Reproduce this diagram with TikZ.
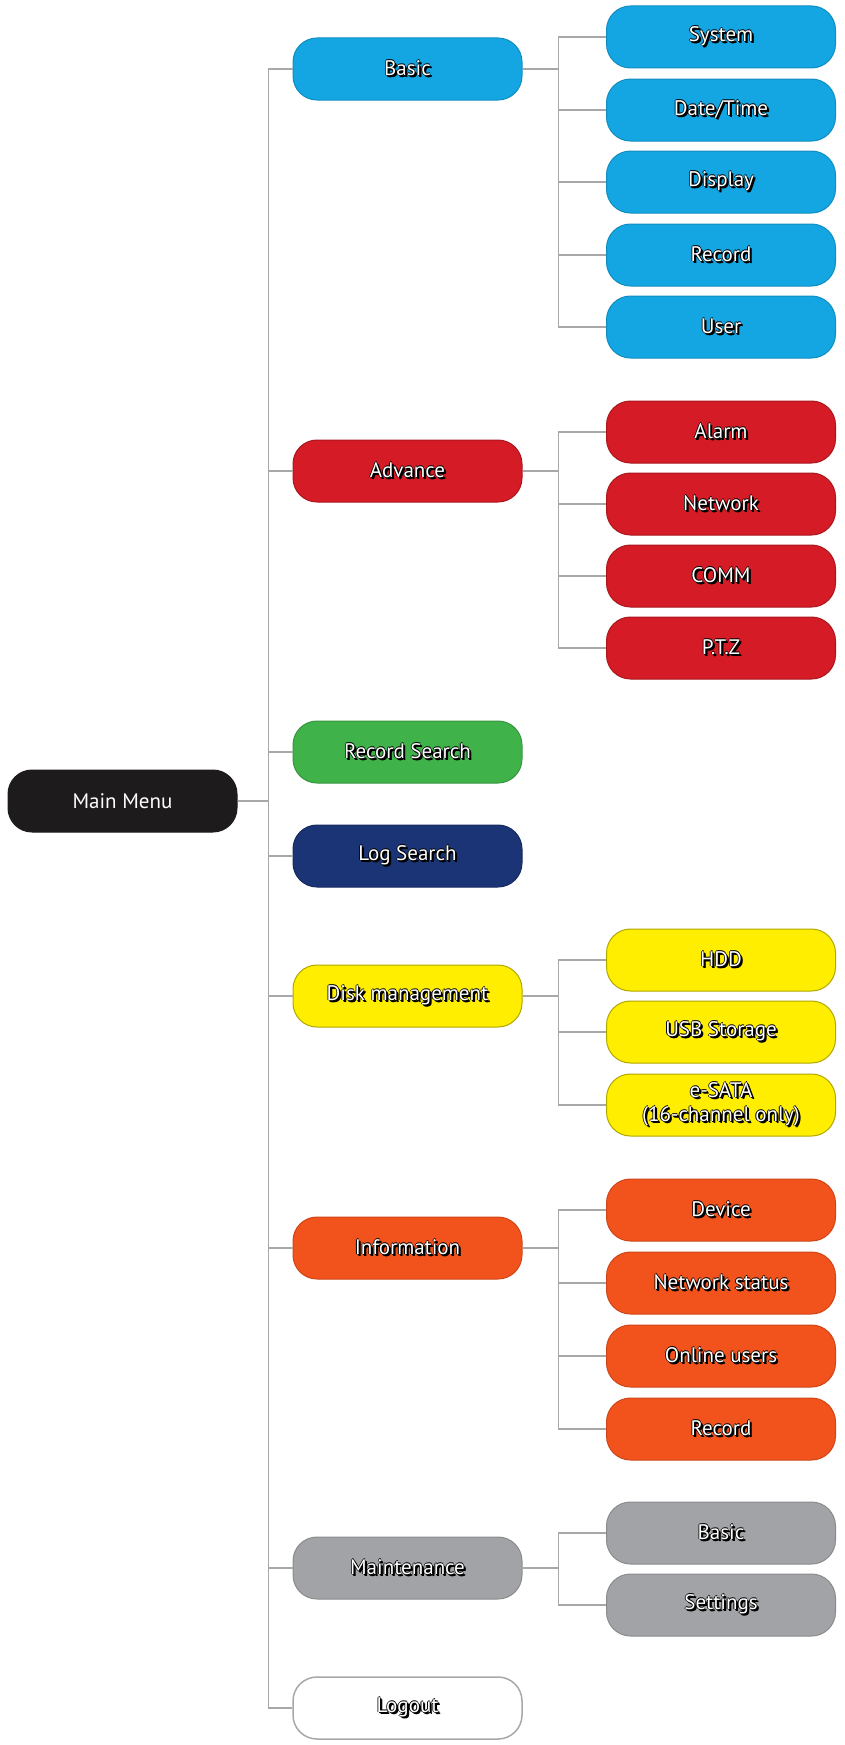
\documentclass[tikz,border=0pt]{standalone}
\usepackage{fontspec}
\setmainfont{PT Sans}
\usepackage{tikz}

\definecolor{menublue}{RGB}{20,166,226}
\definecolor{menured}{RGB}{213,28,38}
\definecolor{menugreen}{RGB}{64,178,74}
\definecolor{menunavy}{RGB}{27,52,118}
\definecolor{menuyellow}{RGB}{255,238,0}
\definecolor{menuorange}{RGB}{242,82,28}
\definecolor{menugray}{RGB}{161,163,166}
\definecolor{menublack}{RGB}{30,27,28}
\definecolor{linkgray}{RGB}{168,168,170}

% white label with a dark drop shadow
\newcommand{\shtxt}[1]{\leavevmode
  \rlap{\hspace{2.2pt}\raisebox{-2.2pt}{\color{black}#1}}%
  \rlap{\hspace{1.5pt}\raisebox{-1.5pt}{\color{black}#1}}%
  \rlap{\hspace{0.8pt}\raisebox{-0.8pt}{\color{black}#1}}%
  \rlap{\hspace{-0.8pt}\raisebox{0.2pt}{\color{black}#1}}%
  \rlap{\hspace{0.2pt}\raisebox{0.8pt}{\color{black}#1}}%
  {\color{white}#1}}

\tikzset{
  box/.style={rounded corners=24pt, minimum width=229pt, minimum height=62pt,
    inner sep=0pt, line width=1pt, align=center,
    font=\fontsize{21}{24}\selectfont},
  black box/.style={box, fill=menublack, draw=menublack, text=white},
  blue box/.style={box, fill=menublue, draw=menublue!85!black},
  red box/.style={box, fill=menured, draw=menured!80!black},
  green box/.style={box, fill=menugreen, draw=menugreen!85!black},
  navy box/.style={box, fill=menunavy, draw=menunavy!80!black},
  yellow box/.style={box, fill=menuyellow, draw=menuyellow!70!black},
  orange box/.style={box, fill=menuorange, draw=menuorange!85!black},
  gray box/.style={box, fill=menugray, draw=menugray!85!black},
  white box/.style={box, fill=white, draw=linkgray, line width=1.5pt},
  link/.style={draw=linkgray, line width=1.6pt},
}

\begin{document}
\begin{tikzpicture}[x=1pt, y=-1pt]
	\useasboundingbox (0,0) rectangle (845,1745);

	% root
	\node [black box] (main) at (122.5,801) {Main Menu};

	% first level
	\node [blue box] (basic) at (407.5,69) {\shtxt{Basic}};
	\node [red box] (advance) at (407.5,471) {\shtxt{Advance}};
	\node [green box] (recsearch) at (407.5,752) {\shtxt{Record Search}};
	\node [navy box] (logsearch) at (407.5,856) {\shtxt{Log Search}};
	\node [yellow box] (disk) at (407.5,996) {\shtxt{Disk management}};
	\node [orange box] (info) at (407.5,1248) {\shtxt{Information}};
	\node [gray box] (maint) at (407.5,1568) {\shtxt{Maintenance}};
	\node [white box] (logout) at (407.5,1708) {\shtxt{Logout}};

	% second level
	\node [blue box] (system) at (721,37) {\shtxt{System}};
	\node [blue box] (datetime) at (721,110) {\shtxt{Date/Time}};
	\node [blue box] (display) at (721,182) {\shtxt{Display}};
	\node [blue box] (record) at (721,255) {\shtxt{Record}};
	\node [blue box] (user) at (721,327) {\shtxt{User}};

	\node [red box] (alarm) at (721,432) {\shtxt{Alarm}};
	\node [red box] (network) at (721,504) {\shtxt{Network}};
	\node [red box] (comm) at (721,576) {\shtxt{COMM}};
	\node [red box] (ptz) at (721,648) {\shtxt{P.T.Z}};

	\node [yellow box] (hdd) at (721,960) {\shtxt{HDD}};
	\node [yellow box] (usb) at (721,1032) {\shtxt{USB Storage}};
	\node [yellow box] (esata) at (721,1105) {\shtxt{e-SATA}\\\shtxt{(16-channel only)}};

	\node [orange box] (device) at (721,1210) {\shtxt{Device}};
	\node [orange box] (netstatus) at (721,1283) {\shtxt{Network status}};
	\node [orange box] (online) at (721,1356) {\shtxt{Online users}};
	\node [orange box] (inforecord) at (721,1429) {\shtxt{Record}};

	\node [gray box] (mbasic) at (721,1533) {\shtxt{Basic}};
	\node [gray box] (settings) at (721,1605) {\shtxt{Settings}};

	% connectors
	\foreach \n in {basic,advance,recsearch,logsearch,disk,info,maint,logout}
		\draw [link] (main.east) -- ++(31,0) |- (\n.west);
	\foreach \n in {system,datetime,display,record,user}
		\draw [link] (basic.east) -- ++(36,0) |- (\n.west);
	\foreach \n in {alarm,network,comm,ptz}
		\draw [link] (advance.east) -- ++(36,0) |- (\n.west);
	\foreach \n in {hdd,usb,esata}
		\draw [link] (disk.east) -- ++(36,0) |- (\n.west);
	\foreach \n in {device,netstatus,online,inforecord}
		\draw [link] (info.east) -- ++(36,0) |- (\n.west);
	\foreach \n in {mbasic,settings}
		\draw [link] (maint.east) -- ++(36,0) |- (\n.west);
\end{tikzpicture}
\end{document}
